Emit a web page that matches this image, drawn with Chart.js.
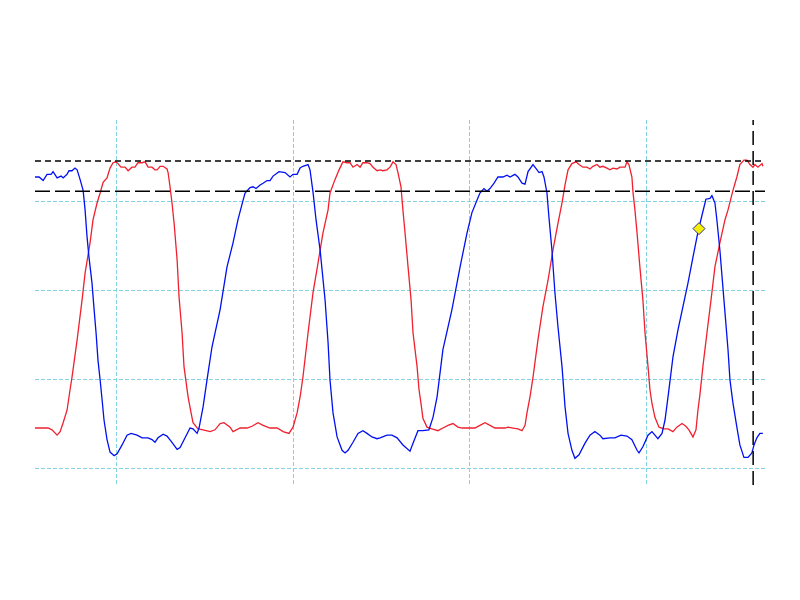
<!DOCTYPE html>
<html>
<head>
<meta charset="utf-8">
<script src="https://cdn.jsdelivr.net/npm/chart.js@4/dist/chart.umd.min.js"></script>
<style>
  body { margin: 0; background: #fff; }
</style>
</head>
<body>
<canvas id="scopeChart" width="800" height="600"></canvas>
<script>
// time in µs (10 µs per division), level in V (1 V per division)
const blueTimes = [5.42,5.65,5.88,6.10,6.33,6.44,6.67,6.89,7.01,7.23,7.34,7.51,7.68,7.80,7.97,8.14,8.25,8.36,8.47,8.64,
  8.76,8.87,8.98,9.10,9.21,9.32,9.49,9.66,9.89,10.06,10.34,10.62,10.85,11.19,11.47,11.81,12.03,12.20,12.37,12.66,
  12.88,13.16,13.45,13.62,13.90,14.18,14.35,14.58,14.69,14.92,15.14,15.42,15.88,16.27,16.61,16.89,17.18,17.29,17.57,17.74,
  17.91,18.14,18.31,18.53,18.70,18.87,19.21,19.55,19.83,20.00,20.23,20.40,20.56,20.85,20.96,21.13,21.30,21.53,21.81,21.98,
  22.09,22.26,22.49,22.77,22.94,23.11,23.39,23.67,23.95,24.18,24.46,24.75,24.92,25.31,25.59,25.88,26.21,26.61,26.78,27.06,
  27.34,27.68,27.91,28.14,28.47,28.98,29.44,29.83,30.11,30.40,30.56,30.79,30.96,31.13,31.36,31.58,31.86,32.09,32.26,32.54,
  32.71,32.94,33.11,33.28,33.56,33.79,33.90,34.07,34.18,34.35,34.46,34.63,34.80,34.97,35.20,35.37,35.54,35.76,35.93,36.16,
  36.50,36.78,37.06,37.34,37.51,37.91,38.19,38.53,38.87,39.15,39.44,39.55,39.77,40.06,40.28,40.45,40.62,40.85,41.02,41.19,
  41.47,41.75,42.03,42.32,42.60,42.88,43.11,43.33,43.56,43.67,43.84,43.95,44.12,44.35,44.58,44.69,44.86,45.08,45.25,45.48,
  45.71,45.93,46.05,46.21,46.38,46.55];
const blueVolts = [3.28,3.28,3.24,3.31,3.31,3.34,3.27,3.29,3.27,3.31,3.35,3.35,3.38,3.36,3.25,3.13,2.91,2.61,2.38,2.09,
  1.79,1.53,1.22,1.00,0.78,0.55,0.33,0.19,0.15,0.17,0.27,0.38,0.40,0.38,0.35,0.35,0.33,0.30,0.35,0.39,
  0.37,0.30,0.22,0.24,0.35,0.46,0.45,0.40,0.46,0.70,1.00,1.37,1.79,2.27,2.54,2.80,3.02,3.10,3.16,3.17,
  3.15,3.19,3.21,3.24,3.24,3.29,3.34,3.33,3.28,3.31,3.31,3.38,3.40,3.42,3.36,3.11,2.80,2.46,1.90,1.42,
  1.00,0.63,0.36,0.21,0.18,0.21,0.30,0.40,0.43,0.40,0.36,0.34,0.35,0.38,0.38,0.35,0.27,0.20,0.29,0.43,
  0.43,0.44,0.58,0.81,1.34,1.79,2.27,2.65,2.88,3.02,3.10,3.15,3.12,3.15,3.21,3.28,3.28,3.30,3.28,3.31,
  3.28,3.21,3.20,3.34,3.42,3.36,3.33,3.34,3.28,3.10,2.83,2.46,1.98,1.60,1.15,0.70,0.40,0.21,0.12,0.16,
  0.29,0.38,0.42,0.38,0.34,0.35,0.35,0.38,0.37,0.33,0.21,0.18,0.25,0.38,0.42,0.38,0.34,0.40,0.55,0.81,
  1.26,1.56,1.82,2.09,2.38,2.66,2.85,3.03,3.04,3.07,2.99,2.80,2.46,1.90,1.34,1.00,0.74,0.47,0.27,0.13,
  0.13,0.18,0.27,0.35,0.40,0.40];

const redTimes = [5.42,6.16,6.38,6.67,6.84,7.01,7.23,7.40,7.51,7.80,8.08,8.25,8.53,8.70,8.93,9.10,9.27,9.49,9.66,9.83,
  10.00,10.11,10.28,10.51,10.68,10.90,11.07,11.24,11.47,11.64,11.81,12.03,12.20,12.32,12.49,12.66,12.88,12.94,13.05,13.16,
  13.28,13.45,13.56,13.73,13.84,14.07,14.24,14.35,14.63,14.92,15.31,15.59,15.88,16.10,16.44,16.61,17.01,17.40,17.68,18.02,
  18.31,18.70,19.10,19.44,19.77,20.00,20.23,20.40,20.56,20.85,21.13,21.41,21.69,21.98,22.09,22.37,22.60,22.82,23.05,23.22,
  23.39,23.62,23.79,23.95,24.18,24.35,24.52,24.75,24.92,25.08,25.31,25.48,25.65,25.82,25.93,26.10,26.21,26.33,26.50,26.67,
  26.78,27.01,27.12,27.23,27.34,27.57,27.85,28.19,28.47,28.76,29.04,29.32,29.55,30.28,30.56,30.85,31.13,31.41,31.98,32.15,
  32.43,32.71,32.94,33.11,33.22,33.39,33.56,33.84,34.12,34.41,34.69,34.97,35.20,35.37,35.54,35.76,35.99,36.16,36.38,36.61,
  36.78,36.95,37.18,37.34,37.51,37.74,37.91,38.08,38.31,38.47,38.76,38.87,38.98,39.15,39.21,39.32,39.44,39.60,39.77,39.89,
  40.06,40.17,40.28,40.45,40.68,40.96,41.19,41.47,41.69,41.98,42.20,42.37,42.60,42.77,42.88,42.99,43.16,43.39,43.62,43.84,
  44.12,44.41,44.58,44.86,45.08,45.25,45.48,45.65,45.82,45.99,46.10,46.27,46.50,46.55];
const redVolts = [0.46,0.46,0.44,0.38,0.42,0.52,0.66,0.89,1.03,1.45,1.90,2.20,2.54,2.80,2.99,3.10,3.22,3.27,3.38,3.44,
  3.45,3.43,3.39,3.39,3.35,3.39,3.39,3.44,3.44,3.45,3.39,3.39,3.36,3.36,3.40,3.40,3.37,3.33,3.17,2.99,
  2.76,2.35,1.93,1.53,1.15,0.81,0.63,0.52,0.45,0.44,0.42,0.44,0.51,0.52,0.47,0.42,0.46,0.46,0.48,0.52,
  0.49,0.46,0.46,0.42,0.40,0.47,0.63,0.81,1.03,1.53,1.98,2.31,2.65,2.91,3.10,3.25,3.36,3.45,3.44,3.44,
  3.39,3.42,3.39,3.44,3.44,3.43,3.39,3.35,3.36,3.35,3.36,3.39,3.45,3.42,3.33,3.17,2.91,2.65,2.27,1.90,
  1.53,1.15,0.89,0.74,0.57,0.47,0.45,0.43,0.46,0.49,0.51,0.47,0.46,0.46,0.49,0.52,0.49,0.46,0.46,0.47,
  0.46,0.45,0.43,0.49,0.63,0.81,1.03,1.45,1.82,2.12,2.46,2.76,2.99,3.19,3.36,3.43,3.45,3.42,3.39,3.39,
  3.37,3.40,3.42,3.39,3.40,3.38,3.36,3.38,3.37,3.39,3.39,3.45,3.42,3.28,3.11,2.91,2.65,2.27,1.90,1.53,
  1.15,0.89,0.74,0.58,0.47,0.45,0.45,0.42,0.47,0.51,0.48,0.44,0.36,0.44,0.66,0.83,1.15,1.53,1.90,2.27,
  2.54,2.80,2.91,3.13,3.28,3.42,3.47,3.47,3.42,3.39,3.42,3.39,3.43,3.40];

const markerTimes = [42.94];
const markerVolts = [2.70];
const highLevel = 3.46;   // short dashes
const lowLevel = 3.12;    // long dashes
const cursorTime = 46.0;

const timeMin = 5.42, timeMax = 46.67;
const voltMin = -0.18, voltMax = 3.92;
const timeTicks = [10, 20, 30, 40];
const voltTicks = [0, 1, 2, 3];

function pairs(xs, ys) {
  return xs.map((x, i) => ({ x: x, y: ys[i] }));
}

const ctx = document.getElementById('scopeChart').getContext('2d');
const scopeChart = new Chart(ctx, {
  type: 'line',
  data: {
    datasets: [
      {
        label: 'marker',
        data: pairs(markerTimes, markerVolts),
        showLine: false,
        pointStyle: 'rectRot',
        pointRadius: 6,
        backgroundColor: '#f5f000',
        borderColor: '#2a2a9a',
        borderWidth: 1
      },
      {
        label: 'cursor',
        data: [{ x: cursorTime, y: voltMin }, { x: cursorTime, y: voltMax }],
        borderColor: '#000',
        borderWidth: 1.5,
        borderDash: [14, 6],
        pointRadius: 0
      },
      {
        label: 'high',
        data: [{ x: timeMin, y: highLevel }, { x: timeMax, y: highLevel }],
        borderColor: '#000',
        borderWidth: 1.5,
        borderDash: [6, 4],
        pointRadius: 0
      },
      {
        label: 'low',
        data: [{ x: timeMin, y: lowLevel }, { x: timeMax, y: lowLevel }],
        borderColor: '#000',
        borderWidth: 1.5,
        borderDash: [15, 5],
        pointRadius: 0
      },
      {
        label: 'CH2',
        data: pairs(blueTimes, blueVolts),
        borderColor: '#0010f0',
        borderWidth: 1.3,
        pointRadius: 0,
        tension: 0
      },
      {
        label: 'CH1',
        data: pairs(redTimes, redVolts),
        borderColor: '#f0202e',
        borderWidth: 1.3,
        pointRadius: 0,
        tension: 0
      }
    ]
  },
  options: {
    responsive: false,
    animation: false,
    layout: { padding: { left: 35, right: 35, top: 120, bottom: 115 } },
    plugins: {
      legend: { display: false },
      tooltip: { enabled: false }
    },
    scales: {
      x: {
        type: 'linear',
        min: timeMin,
        max: timeMax,
        afterBuildTicks: (axis) => { axis.ticks = timeTicks.map(v => ({ value: v })); },
        ticks: { display: false },
        grid: { color: 'rgb(130,212,224)', lineWidth: 1, drawTicks: false },
        border: { display: false, dash: [4, 2] }
      },
      y: {
        type: 'linear',
        min: voltMin,
        max: voltMax,
        afterBuildTicks: (axis) => { axis.ticks = voltTicks.map(v => ({ value: v })); },
        ticks: { display: false },
        grid: { color: 'rgb(130,212,224)', lineWidth: 1, drawTicks: false },
        border: { display: false, dash: [4, 2] }
      }
    }
  }
});
</script>
</body>
</html>
